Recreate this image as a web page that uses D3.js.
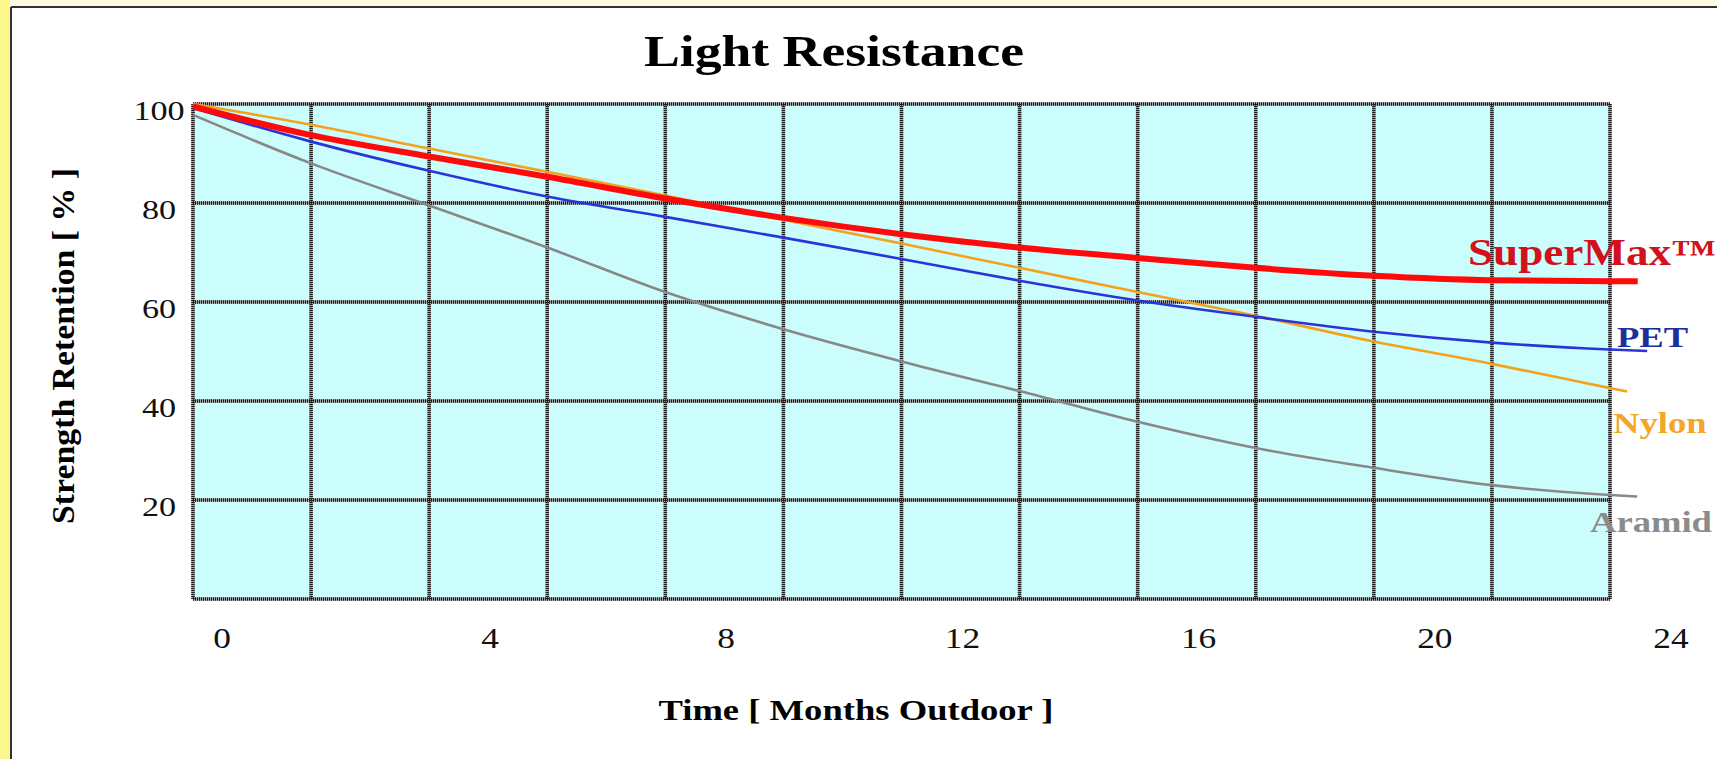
<!DOCTYPE html>
<html>
<head>
<meta charset="utf-8">
<script src="https://cdn.jsdelivr.net/npm/d3@7"></script>
<style>
  html, body { margin: 0; padding: 0; background: #fff; }
  svg { display: block; }
  text { font-family: "Times New Roman", "Liberation Serif", serif; }
</style>
</head>
<body>
<div id="chart"></div>
<script>
const WIDTH = 1717;
const HEIGHT = 759;
const STRETCH = 1.22; // the source picture is stretched sideways

// --------------- Data ---------------
const months = [0, 2, 4, 6, 8, 10, 12, 14, 16, 18, 20, 22, 24];
const seriesNames = ["SuperMax™", "PET", "Nylon", "Aramid"];
// last value of each series sits at its endMonth (lines run a bit past 24)
const endMonth = [24.47, 24.63, 24.29, 24.46];
const superMax = [99.5, 93.7, 89.4, 85.3, 80.9, 77.0, 73.7, 71.0, 68.9, 66.9, 65.3, 64.4, 64.2, 64.2];
const pet      = [99.2, 92.4, 86.5, 81.3, 77.2, 73.0, 68.7, 64.3, 60.3, 57.0, 54.0, 51.8, 50.4, 50.1];
const nylon    = [100, 95.8, 91.0, 86.3, 81.5, 76.6, 71.8, 66.9, 62.0, 57.2, 52.0, 47.5, 42.6, 41.9];
const aramid   = [97.8, 88.0, 79.5, 71.0, 62.0, 54.5, 48.0, 42.0, 35.8, 30.5, 26.5, 23.0, 21.0, 20.7];
const yTicks = [20, 40, 60, 80, 100];
const xTicks = [0, 4, 8, 12, 16, 20, 24];

const seriesValues = [superMax, pet, nylon, aramid];
const lineColors = ["#ff0a0a", "#2a35d8", "#f4a21e", "#888888"];
const lineWidths = [6, 2.6, 2.6, 2.6];
const labelColors = ["#d3111c", "#1d2f98", "#f2a62a", "#8b8b8b"];

// --------------- Scales ---------------
const x = d3.scaleLinear().domain([0, 24]).range([193, 1610]);
const y = d3.scaleLinear().domain([0, 100]).range([599, 104]);
// month labels in the picture are not lined up with the grid
const xLabel = d3.scaleLinear().domain([0, 4, 24]).range([222, 490, 1671]);

const svg = d3.select("#chart").append("svg")
  .attr("width", WIDTH)
  .attr("height", HEIGHT);

// page frame
svg.append("rect").attr("x", 0).attr("y", 0).attr("width", WIDTH).attr("height", 6).attr("fill", "#fffbe2");
svg.append("rect").attr("x", 0).attr("y", 0).attr("width", 10).attr("height", HEIGHT).attr("fill", "#fdf88e");
svg.append("line").attr("x1", 11).attr("x2", WIDTH).attr("y1", 7).attr("y2", 7)
  .attr("stroke", "#333").attr("stroke-width", 2);
svg.append("line").attr("x1", 11).attr("x2", 11).attr("y1", 7).attr("y2", HEIGHT)
  .attr("stroke", "#333").attr("stroke-width", 2);

// plot area
svg.append("rect")
  .attr("x", x(0)).attr("y", y(100))
  .attr("width", x(24) - x(0)).attr("height", y(0) - y(100))
  .attr("fill", "#cbfdfd");

// grid: a grey line with a black checker dotted over it
const gridMonths = d3.range(0, 25, 2);
const gridValues = d3.range(0, 101, 20);
const grid = svg.append("g");
[{ color: "#a0a0a0", dash: null }, { color: "#1e1e1e", dash: "1,1" }].forEach(s => {
  grid.append("g").selectAll("line")
    .data(gridMonths).enter().append("line")
    .attr("x1", d => x(d)).attr("x2", d => x(d))
    .attr("y1", y(100)).attr("y2", y(0))
    .attr("stroke", s.color).attr("stroke-width", 3.5)
    .attr("stroke-dasharray", s.dash);
  grid.append("g").selectAll("line")
    .data(gridValues).enter().append("line")
    .attr("x1", x(0)).attr("x2", x(24))
    .attr("y1", d => y(d)).attr("y2", d => y(d))
    .attr("stroke", s.color).attr("stroke-width", 3.5)
    .attr("stroke-dasharray", s.dash);
});

// --------------- Lines ---------------
const line = d3.line()
  .x(d => x(d[0]))
  .y(d => y(d[1]))
  .curve(d3.curveMonotoneX);

// draw in back-to-front order: aramid, nylon, PET, SuperMax
[3, 2, 1, 0].forEach(i => {
  const pts = seriesValues[i].map((v, j) => [j < months.length ? months[j] : endMonth[i], v]);
  svg.append("path")
    .datum(pts)
    .attr("d", line)
    .attr("fill", "none")
    .attr("stroke", lineColors[i])
    .attr("stroke-width", lineWidths[i]);
});

// --------------- Text ---------------
function stretchedText(px, py, str, size, weight, color, anchor) {
  svg.append("g")
    .attr("transform", `translate(${px},${py}) scale(${STRETCH},1)`)
    .append("text")
    .attr("text-anchor", anchor)
    .attr("font-size", size)
    .attr("font-weight", weight)
    .attr("fill", color)
    .text(str);
}

stretchedText(834, 66, "Light Resistance", 44, "bold", "#000", "middle");

yTicks.forEach(v => stretchedText(159, y(v) + 15.5, v, 28, "normal", "#111", "middle"));
xTicks.forEach(m => stretchedText(xLabel(m), 648, m, 29, "normal", "#111", "middle"));

stretchedText(856, 720, "Time [ Months Outdoor ]", 30, "bold", "#000", "middle");

svg.append("text")
  .attr("transform", "translate(74,346) rotate(-90)")
  .attr("text-anchor", "middle")
  .attr("font-size", 32)
  .attr("font-weight", "bold")
  .attr("fill", "#000")
  .attr("textLength", 356)
  .attr("lengthAdjust", "spacingAndGlyphs")
  .text("Strength Retention [ % ]");

// series labels at the right end
const labelX = [1468, 1617, 1613, 1590];
const labelY = [265, 347, 433, 532];
const labelSize = [37, 30, 30, 30];
seriesNames.forEach((name, i) =>
  stretchedText(labelX[i], labelY[i], name, labelSize[i], "bold", labelColors[i], "start"));
</script>
</body>
</html>
